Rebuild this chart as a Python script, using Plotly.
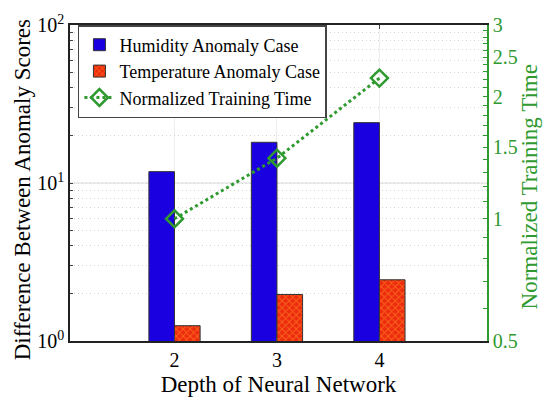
import plotly.graph_objects as go

# Network depth on the x axis
depths = [2, 3, 4]
# Difference between anomaly scores (log scale)
humidity_diff = [11.8, 18.1, 24.1]
temperature_diff = [1.25, 1.97, 2.44]
# Normalized training time (secondary log axis)
training_time = [1.0, 1.41, 2.22]

left_major = [1, 10, 100]
left_major_text = ["10<sup>0</sup>", "10<sup>1</sup>", "10<sup>2</sup>"]
right_major = [0.5, 1, 1.5, 2, 2.5, 3]
right_major_text = ["0.5", "1", "1.5", "2", "2.5", "3"]

FONT = "Liberation Serif"
GREEN = "#2f9a2f"

# Tick positions for the log axes (majors labelled, minors blank)
left_vals, left_text = [], []
for dec in [1, 10]:
    for k in range(1, 10):
        v = dec * k
        left_vals.append(v)
        left_text.append(left_major_text[left_major.index(v)] if v in left_major else "")
left_vals.append(100)
left_text.append(left_major_text[2])

right_vals, right_text = [], []
for i in range(5, 31):
    v = round(i / 10, 1)
    right_vals.append(v)
    right_text.append(right_major_text[right_major.index(v)] if v in right_major else "")

fig = go.Figure()

fig.add_trace(go.Bar(
    x=depths, y=humidity_diff, name="Humidity Anomaly Case",
    marker=dict(color="#1a00e0", line=dict(color="#333333", width=1)),
))
fig.add_trace(go.Bar(
    x=depths, y=temperature_diff, name="Temperature Anomaly Case",
    marker=dict(color="#ee2a10", line=dict(color="#333333", width=1),
                pattern=dict(shape="x", bgcolor="#ee2a10", fgcolor="#ffa020",
                             size=5, solidity=0.35)),
))
fig.add_trace(go.Scatter(
    x=depths, y=training_time, name="Normalized Training Time", yaxis="y2",
    mode="lines+markers",
    line=dict(color=GREEN, width=3, dash="dot"),
    marker=dict(symbol="diamond-open", size=13, color=GREEN, line=dict(width=2.5, color=GREEN)),
))

# Solid major grid line at 10^1
fig.add_shape(type="line", xref="paper", yref="y", x0=0, x1=1, y0=10, y1=10,
              line=dict(color="#e6e6e6", width=1.5), layer="below")

# Vertical axis titles
fig.add_annotation(text="Difference Between Anomaly Scores", textangle=-90,
                   xref="paper", yref="paper", x=-0.115, y=0.477,
                   xanchor="center", yanchor="middle", showarrow=False,
                   font=dict(family=FONT, size=23, color="black"))
fig.add_annotation(text="Normalized Training Time", textangle=-90,
                   xref="paper", yref="paper", x=1.103, y=0.489,
                   xanchor="center", yanchor="middle", showarrow=False,
                   font=dict(family=FONT, size=23, color=GREEN))

fig.update_layout(
    width=545, height=405,
    margin=dict(l=70, r=58, t=16, b=62),
    paper_bgcolor="white", plot_bgcolor="white",
    font=dict(family=FONT, size=20, color="black"),
    barmode="group", bargap=0.5, bargroupgap=0,
    showlegend=True,
    legend=dict(x=0.019, y=1.0, xanchor="left", yanchor="top",
                bgcolor="white", bordercolor="#444444", borderwidth=1.5,
                font=dict(family=FONT, size=18), tracegroupgap=0),
    xaxis=dict(
        range=[0.98, 5.05], tickvals=depths, ticktext=[str(d) for d in depths],
        ticks="inside", ticklen=4, tickcolor="#444444",
        showline=True, linecolor="#222222", linewidth=1.5, mirror="ticks",
        showgrid=True, gridcolor="#eeeeee", gridwidth=1, zeroline=False,
        title=dict(text="Depth of Neural Network", font=dict(family=FONT, size=23), standoff=6),
        tickfont=dict(family=FONT, size=20),
    ),
    yaxis=dict(
        type="log", range=[0, 2],
        tickvals=left_vals, ticktext=left_text,
        ticks="inside", ticklen=3, tickcolor="#444444",
        showline=True, linecolor="#222222", linewidth=1.5,
        showgrid=True, gridcolor="#d4d4d4", griddash="1px,3px", gridwidth=1,
        zeroline=False,
        tickfont=dict(family=FONT, size=20),
    ),
    yaxis2=dict(
        type="log", range=[-0.30103, 0.4771213], overlaying="y", side="right",
        tickvals=right_vals, ticktext=right_text,
        ticks="inside", ticklen=4, tickcolor=GREEN,
        showline=True, linecolor=GREEN, linewidth=1.5,
        showgrid=False, zeroline=False,
        tickfont=dict(family=FONT, size=20, color=GREEN),
    ),
)

fig.write_html("out.html")
